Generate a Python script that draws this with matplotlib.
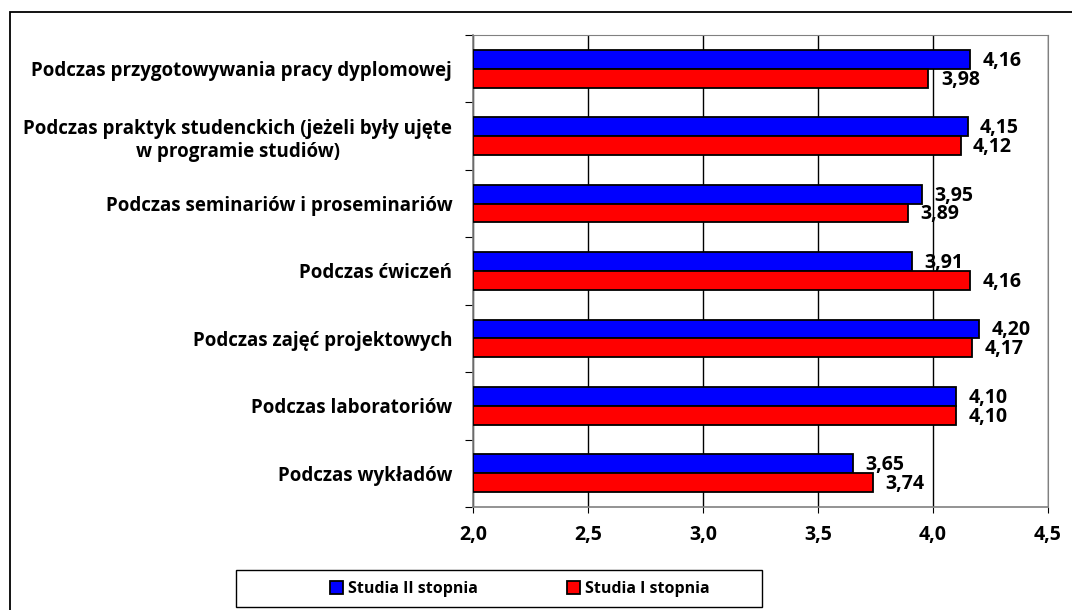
import matplotlib.pyplot as plt
from matplotlib.patches import Rectangle

categories = [
    "Podczas przygotowywania pracy dyplomowej",
    "Podczas praktyk studenckich (jeżeli były ujęte\nw programie studiów)",
    "Podczas seminariów i proseminariów",
    "Podczas ćwiczeń",
    "Podczas zajęć projektowych",
    "Podczas laboratoriów",
    "Podczas wykładów",
]
studia_ii = [4.16, 4.15, 3.95, 3.91, 4.20, 4.10, 3.65]
studia_i = [3.98, 4.12, 3.89, 4.16, 4.17, 4.10, 3.74]
xticks = [2.0, 2.5, 3.0, 3.5, 4.0, 4.5]

plt.rcParams["font.family"] = ["Open Sans", "DejaVu Sans"]
plt.rcParams["font.weight"] = "bold"

W, H = 1072, 610
fig = plt.figure(figsize=(W / 100, H / 100), dpi=100)
ax = fig.add_axes([473 / W, 1 - 507 / H, (1048 - 473) / W, (507 - 35) / H])

# outer chart border
fig.patches.append(Rectangle((10 / W, -0.05), 1.1, 1 - 12 / H + 0.05,
                             transform=fig.transFigure, fill=False,
                             edgecolor="black", lw=1.3, zorder=0))

n = len(categories)
pos = [n - 1 - i for i in range(n)]
h = 0.28
bl = ax.barh([p + h / 2 for p in pos], [v - 2 for v in studia_ii], left=2, height=h,
             color="#0000ff", edgecolor="black", lw=1.3, label="Studia II stopnia", zorder=3)
rd = ax.barh([p - h / 2 for p in pos], [v - 2 for v in studia_i], left=2, height=h,
             color="#ff0000", edgecolor="black", lw=1.3, label="Studia I stopnia", zorder=3)

for p, v in zip(pos, studia_ii):
    ax.annotate(f"{v:.2f}".replace(".", ","), (v, p + h / 2), xytext=(9, -1),
                textcoords="offset points", va="center", ha="left", fontsize=14, zorder=4)
for p, v in zip(pos, studia_i):
    ax.annotate(f"{v:.2f}".replace(".", ","), (v, p - h / 2), xytext=(9, -1),
                textcoords="offset points", va="center", ha="left", fontsize=14, zorder=4)

ax.set_xlim(2.0, 4.5)
ax.set_ylim(-0.5, n - 0.5)
ax.set_xticks(xticks)
ax.set_xticklabels([f"{t:.1f}".replace(".", ",") for t in xticks], fontsize=14)
ax.set_yticks([p + 0.5 for p in range(-1, n)])
ax.set_yticklabels([])
ax.set_yticks(pos, minor=True)
ax.set_yticklabels(categories, minor=True, fontsize=13.5, ha="right", multialignment="center")
ax.tick_params(axis="y", which="minor", length=0, pad=15)
ax.tick_params(axis="y", which="major", length=6, direction="out")
ax.tick_params(axis="x", length=4, direction="out", pad=9)
ax.grid(axis="x", color="black", lw=1, zorder=1)
for s in ["top", "right"]:
    ax.spines[s].set_color("#808080")
for s in ["left", "bottom"]:
    ax.spines[s].set_color("#808080")
    ax.spines[s].set_linewidth(1.2)

# legend box
fig.patches.append(Rectangle((236 / W, 1 - 607 / H), (762 - 236) / W, 37 / H,
                             transform=fig.transFigure, fill=False,
                             edgecolor="black", lw=1, zorder=1))
leg = fig.legend(handles=[bl, rd], loc="center", bbox_to_anchor=(520 / W, 1 - 589 / H),
                 ncol=2, fontsize=11.5, frameon=False,
                 columnspacing=5.6, handlelength=0.8, handleheight=0.8, handletextpad=0.3,
                 borderpad=0.3)

fig.savefig("out.png", dpi=100)
